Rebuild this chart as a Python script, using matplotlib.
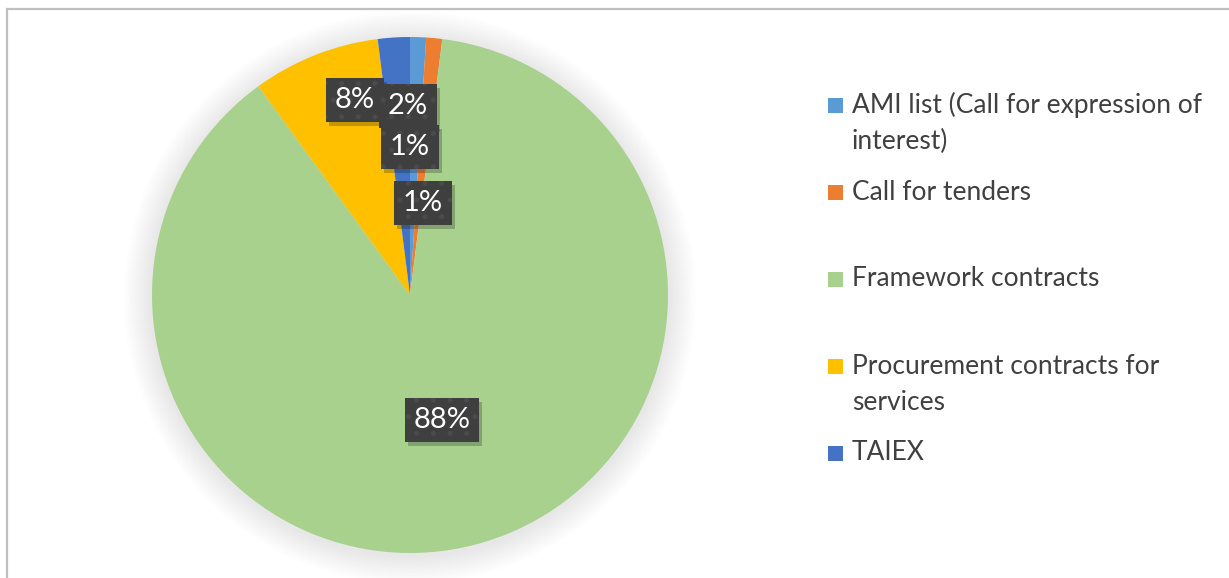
import numpy as np
import matplotlib
matplotlib.use('Agg')
import matplotlib.pyplot as plt
from matplotlib.patches import Circle, Rectangle

# Chart data
categories = ['AMI list (Call for expression of\ninterest)',
              'Call for tenders',
              'Framework contracts',
              'Procurement contracts for\nservices',
              'TAIEX']
shares = [1, 1, 88, 8, 2]
pct_labels = ['1%', '1%', '88%', '8%', '2%']
colors = ['#5B9BD5', '#ED7D31', '#A9D18E', '#FFC000', '#4472C4']

W, H = 1229, 578
plt.rcParams['font.family'] = ['Lato', 'DejaVu Sans']
plt.rcParams['hatch.linewidth'] = 1.2

fig = plt.figure(figsize=(W / 100, H / 100), dpi=100)
fig.patch.set_facecolor('white')

# chart border (only top/left visible in the crop)
fig.patches.append(Rectangle((7 / W, -0.1), 1.2, (H - 9) / H + 0.1,
                             transform=fig.transFigure, fill=False,
                             edgecolor='#BFBFBF', linewidth=1.6))

# pie axes: centre (410, 295) px, radius 258 px
cx, cy, r = 410, 295, 258
ax = fig.add_axes([(cx - r) / W, (H - cy - r) / H, 2 * r / W, 2 * r / H])

# soft shadow round the pie
for k in range(12):
    rr = 1.0 + 0.009 * (12 - k)
    ax.add_patch(Circle((0.0, -0.01), rr, facecolor='#000000',
                        edgecolor='none', alpha=0.008, zorder=0,
                        clip_on=False))

wedges, _ = ax.pie(shares, colors=colors, startangle=90, counterclock=False,
                   radius=1.0, wedgeprops=dict(linewidth=0))
ax.set_xlim(-1, 1)
ax.set_ylim(-1, 1)
ax.set_aspect('equal')
ax.axis('off')

# data label positions (axes data units), Excel best-fit style
label_pos = [(0.0, 0.574), (0.050, 0.357), (0.124, -0.484),
             (-0.213, 0.756), (-0.008, 0.733)]
label_texts = []
for txt, (lx, ly) in zip(pct_labels, label_pos):
    t = ax.text(lx, ly, txt, ha='center', va='center', color='white',
                fontsize=21, zorder=5,
                bbox=dict(boxstyle='square,pad=0.3', facecolor='#3F3F3F',
                          edgecolor='#4B4B4B', linewidth=0, hatch='.'))
    label_texts.append(t)

# drop shadows under the label boxes
fig.canvas.draw()
for t in label_texts:
    bb = t.get_bbox_patch().get_window_extent()
    fig.patches.append(Rectangle(((bb.x0 + 3) / W, (bb.y0 - 4) / H),
                                 bb.width / W, bb.height / H,
                                 transform=fig.transFigure, facecolor='#000000',
                                 edgecolor='none', alpha=0.22, zorder=3))
    # keep the labels above the figure-level shadow patches
    t.remove()
    fig.texts.append(t)
    t.set_figure(fig)

# legend drawn by hand to keep Excel's uneven spacing
leg_x, leg_y0, leg_step, line_step = 852, 105, 87, 36
for i, (lab, col) in enumerate(zip(categories, colors)):
    y = leg_y0 + i * leg_step
    fig.patches.append(Rectangle(((leg_x - 24) / W, (H - y - 7.5) / H),
                                 15 / W, 15 / H, transform=fig.transFigure,
                                 facecolor=col, edgecolor='none'))
    for j, line in enumerate(lab.split('\n')):
        fig.text(leg_x / W, (H - y - j * line_step) / H, line,
                 ha='left', va='center', fontsize=19, color='#404040')

fig.savefig('out.png', dpi=100)
